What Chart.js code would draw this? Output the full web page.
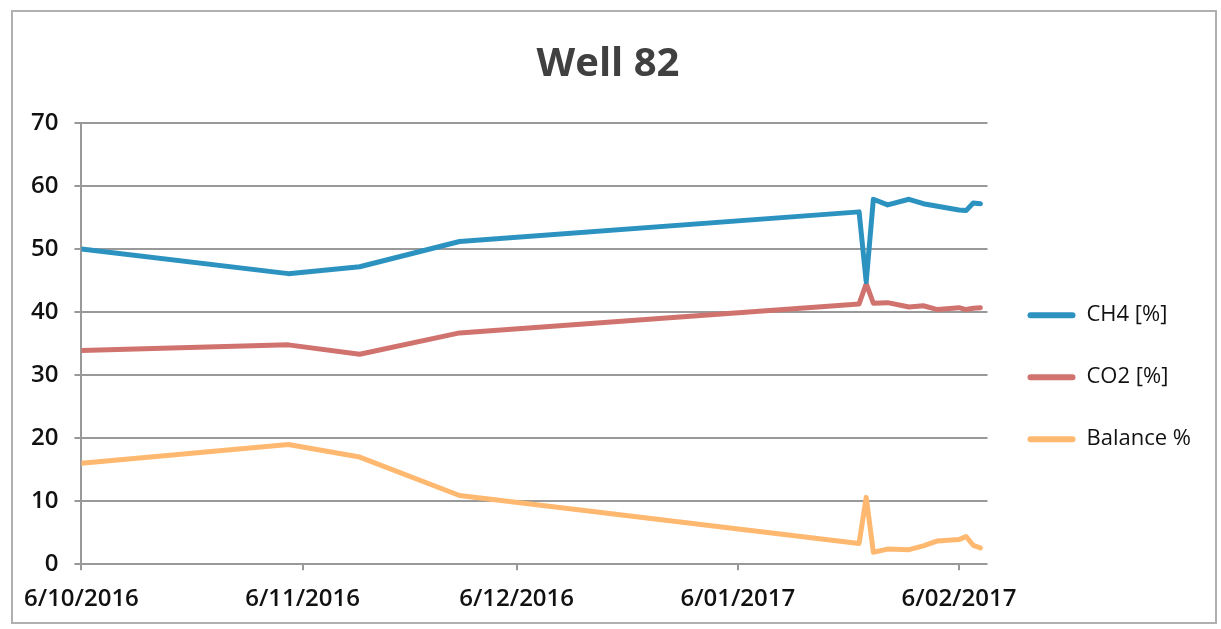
<!DOCTYPE html>
<html>
<head>
<meta charset="utf-8">
<script src="https://cdn.jsdelivr.net/npm/chart.js@4/dist/chart.umd.min.js"></script>
<style>
  html, body { margin: 0; padding: 0; background: #fff; }
  #wrap { width: 1221px; height: 629px; }
</style>
</head>
<body>
<div id="wrap"><canvas id="wellChart" width="1221" height="629"></canvas></div>
<script>
// days counted from 6/10/2016
const sampleDays = [0, 29, 39, 53, 109, 110, 111, 113, 116, 118, 120, 123, 124, 125, 126];
const ch4 = [50.0, 46.1, 47.2, 51.2, 55.9, 44.8, 57.9, 57.0, 57.9, 57.2, 56.8, 56.2, 56.1, 57.3, 57.2];
const co2 = [33.9, 34.8, 33.3, 36.7, 41.3, 44.5, 41.4, 41.5, 40.8, 41.0, 40.4, 40.7, 40.4, 40.6, 40.7];
const balance = [16.0, 19.0, 17.0, 10.9, 3.3, 10.6, 1.9, 2.4, 2.3, 2.9, 3.7, 3.9, 4.4, 3.0, 2.6];

const tickDays = [0, 31, 61, 92, 123];
const tickLabels = ['6/10/2016', '6/11/2016', '6/12/2016', '6/01/2017', '6/02/2017'];

function toPoints(values) {
    return values.map((v, i) => ({ x: sampleDays[i], y: v }));
}

// thin grey frame around the whole chart, like the scanned original
const framePlugin = {
    id: 'frame',
    beforeDraw(chart) {
        const c = chart.ctx;
        c.save();
        c.strokeStyle = '#b0b0b0';
        c.lineWidth = 2;
        c.strokeRect(12, 11, 1204, 612);
        c.restore();
    }
};

document.addEventListener('DOMContentLoaded', function() {
    const ctx = document.getElementById('wellChart').getContext('2d');

    const chart = new Chart(ctx, {
        type: 'line',
        data: {
            datasets: [
                { label: 'CH4 [%]', data: toPoints(ch4), borderColor: '#2C93C0', backgroundColor: '#2C93C0' },
                { label: 'CO2 [%]', data: toPoints(co2), borderColor: '#D0736E', backgroundColor: '#D0736E' },
                { label: 'Balance %', data: toPoints(balance), borderColor: '#FFB870', backgroundColor: '#FFB870' }
            ]
        },
        options: {
            responsive: false,
            animation: false,
            layout: { padding: { left: 15, right: 20, top: 0, bottom: 0 } },
            elements: {
                line: { borderWidth: 5, tension: 0, borderJoinStyle: 'round', borderCapStyle: 'round' },
                point: { radius: 0 }
            },
            scales: {
                x: {
                    type: 'linear',
                    min: 0,
                    max: 127,
                    afterBuildTicks: axis => {
                        axis.ticks = tickDays.map(v => ({ value: v }));
                    },
                    ticks: {
                        autoSkip: false,
                        maxRotation: 0,
                        padding: 15,
                        color: '#111',
                        font: { family: 'Open Sans', size: 24, weight: '600' },
                        callback: (value, index) => tickLabels[index]
                    },
                    grid: { drawOnChartArea: false, drawTicks: true, tickLength: 6, color: '#999', lineWidth: 2 },
                    border: { display: false }
                },
                y: {
                    min: 0,
                    max: 70,
                    ticks: {
                        stepSize: 10,
                        padding: 16,
                        color: '#111',
                        font: { family: 'Open Sans', size: 24, weight: '600' }
                    },
                    grid: { color: '#999', lineWidth: 2, tickLength: 7 },
                    border: { display: true, color: '#999', width: 2 }
                }
            },
            plugins: {
                title: {
                    display: true,
                    text: 'Well 82',
                    color: '#404040',
                    font: { family: 'Open Sans', size: 40, weight: 'bold' },
                    padding: { top: 41, bottom: 34 }
                },
                legend: {
                    position: 'right',
                    title: { display: true, text: '', font: { size: 12 }, padding: { top: 56, bottom: 55 } },
                    labels: {
                        boxWidth: 48,
                        boxHeight: 6,
                        padding: 40,
                        color: '#111',
                        useBorderRadius: true,
                        borderRadius: 3,
                        font: { family: 'Open Sans', size: 22 },
                        generateLabels: c => Chart.defaults.plugins.legend.labels.generateLabels(c)
                            .map(item => Object.assign(item, { lineWidth: 0 }))
                    }
                },
                tooltip: { enabled: false }
            }
        },
        plugins: [framePlugin]
    });
});
</script>
</body>
</html>
